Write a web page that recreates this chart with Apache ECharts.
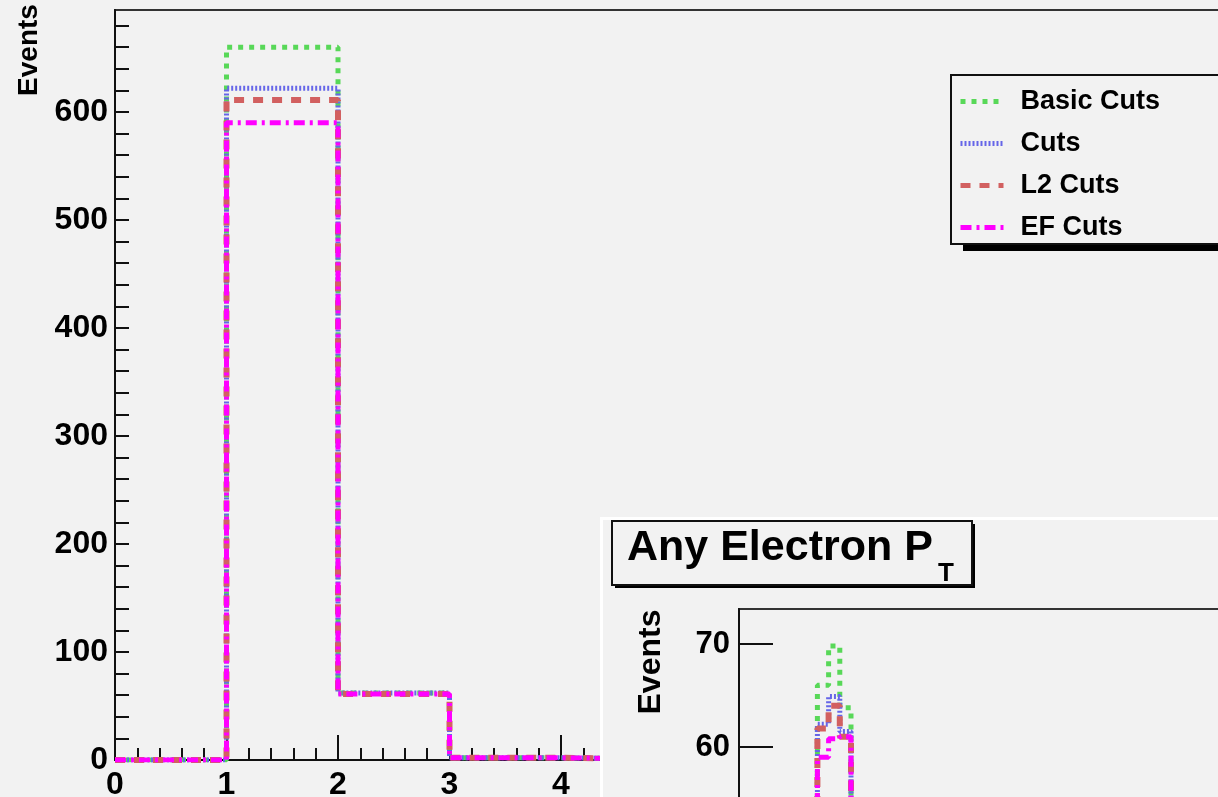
<!DOCTYPE html>
<html>
<head>
<meta charset="utf-8">
<title>Any Electron PT</title>
<script src="https://cdn.jsdelivr.net/npm/echarts@6/dist/echarts.min.js"></script>
<style>
  html, body { margin: 0; padding: 0; background: #f2f2f2; }
  #main { width: 1218px; height: 797px; }
</style>
</head>
<body>
<div id="main"></div>
<script>
var seriesNames = ['Basic Cuts', 'Cuts', 'L2 Cuts', 'EF Cuts'];

// main histogram (bin edges, one value per bin)
var mainEdges = [0, 1, 2, 3, 4, 5, 6, 7, 8, 9, 10];
var mainBasic = [0, 660, 62, 2, 1, 0, 0, 0, 0, 0];
var mainCuts  = [0, 622, 62, 2, 1, 0, 0, 0, 0, 0];
var mainL2    = [0, 611, 61, 2, 1, 0, 0, 0, 0, 0];
var mainEF    = [0, 590, 61, 2, 1, 0, 0, 0, 0, 0];
var mainYTicks  = [0, 20, 40, 60, 80, 100, 120, 140, 160, 180, 200, 220, 240, 260, 280, 300, 320, 340,
                   360, 380, 400, 420, 440, 460, 480, 500, 520, 540, 560, 580, 600, 620, 640, 660, 680];
var mainYLabels = [0, 100, 200, 300, 400, 500, 600];

// inset "Any Electron PT" histogram
var insetEdges = [5, 6, 7, 8, 9, 10, 11, 12];
var insetBasic = [38, 40, 66, 69.8, 63.8, 45, 40];
var insetCuts  = [38, 40, 62.2, 64.9, 61.5, 45, 40];
var insetL2    = [38, 40, 61.8, 64, 61, 45, 40];
var insetEF    = [38, 40, 59, 60.8, 61, 45, 40];
var insetYMajor  = [50, 60, 70];
var insetYMinor  = [52, 54, 56, 58, 62, 64, 66, 68, 72];
var insetYLabels = [60, 70];

var FONT = 'Liberation Sans, Arial, Helvetica, sans-serif';
var BG = '#f2f2f2';

function histo(edges, vals) {
    var d = [];
    for (var i = 0; i < vals.length; i++) d.push([edges[i], vals[i]]);
    d.push([edges[vals.length], vals[vals.length - 1]]);
    return d;
}

var looks = [
    { color: '#58d858', width: 5, type: [5, 6] },
    { color: '#6666e8', width: 5, type: [2, 2] },
    { color: '#d26060', width: 6, type: [10, 9] },
    { color: '#ff00ff', width: 5, type: [11, 5, 3, 5] }
];

var mainSets = [mainBasic, mainCuts, mainL2, mainEF];
var insetSets = [insetBasic, insetCuts, insetL2, insetEF];

var series = [];
mainSets.forEach(function (vals, i) {
    series.push({
        name: seriesNames[i], type: 'line', step: 'end', symbol: 'none', showSymbol: false,
        xAxisIndex: 0, yAxisIndex: 0, z: 2 + i,
        color: looks[i].color,
        lineStyle: looks[i],
        data: histo(mainEdges, vals)
    });
});
insetSets.forEach(function (vals, i) {
    series.push({
        name: seriesNames[i], type: 'line', step: 'end', symbol: 'none', showSymbol: false,
        xAxisIndex: 1, yAxisIndex: 1, zlevel: 1, z: 6 + i,
        color: looks[i].color,
        lineStyle: looks[i],
        data: histo(insetEdges, vals)
    });
});

var chartDom = document.getElementById('main');
var myChart = echarts.init(chartDom, null, { renderer: 'canvas' });
var option;

option = {
    backgroundColor: BG,
    animation: false,
    textStyle: { fontFamily: FONT },
    title: [
        {
            text: 'Any Electron P', left: 627, top: 527, padding: 0, zlevel: 1, z: 10,
            textStyle: { fontSize: 43, fontWeight: 'bold', color: '#000', fontFamily: FONT }
        },
        {
            text: 'T', left: 938, top: 561, padding: 0, zlevel: 1, z: 10,
            textStyle: { fontSize: 26, fontWeight: 'bold', color: '#000', fontFamily: FONT }
        }
    ],
    legend: {
        data: seriesNames,
        orient: 'vertical', left: 958, top: 88, padding: 0,
        itemWidth: 43, itemHeight: 14, itemGap: 15,
        selectedMode: false, z: 5,
        itemStyle: { opacity: 0 },
        lineStyle: { width: 5 },
        textStyle: { fontSize: 27, fontWeight: 'bold', color: '#000', fontFamily: FONT, lineHeight: 26, padding: [0, 0, 0, 12] }
    },
    grid: [
        { left: 115, top: 10, width: 1115, height: 750, outerBoundsMode: 'none', containLabel: false,
          show: true, borderColor: '#333', borderWidth: 2, backgroundColor: 'transparent' },
        { left: 739, top: 609, width: 560, height: 241, outerBoundsMode: 'none', containLabel: false,
          show: true, borderColor: '#333', borderWidth: 2, backgroundColor: 'transparent', zlevel: 1, z: 2 }
    ],
    xAxis: [
        {
            type: 'value', gridIndex: 0, min: 0, max: 10, interval: 1,
            axisLine: { lineStyle: { color: '#111', width: 2 } },
            axisTick: { inside: true, length: 25, lineStyle: { color: '#111', width: 2 } },
            minorTick: { show: true, splitNumber: 5, length: 12, lineStyle: { color: '#111', width: 2 } },
            axisLabel: { margin: 9, fontSize: 32, fontWeight: 'bold', color: '#000', fontFamily: FONT },
            splitLine: { show: false }
        },
        {
            type: 'value', gridIndex: 1, min: 0, max: 50, show: false, zlevel: 1
        }
    ],
    yAxis: [
        {
            type: 'value', gridIndex: 0, min: 0, max: 694.4,
            axisLine: { show: true, lineStyle: { color: '#111', width: 2 } },
            axisTick: { show: true, inside: true, length: 14, customValues: mainYTicks, lineStyle: { color: '#111', width: 2 } },
            axisLabel: { customValues: mainYLabels, margin: 7, fontSize: 32, fontWeight: 'bold', color: '#000', fontFamily: FONT },
            splitLine: { show: false }
        },
        {
            type: 'value', gridIndex: 1, min: 50, max: 73.4, zlevel: 1, z: 5,
            axisLine: { show: true, lineStyle: { color: '#111', width: 2 } },
            axisTick: { show: true, inside: true, length: 34, customValues: insetYMajor, lineStyle: { color: '#111', width: 2 } },
            axisLabel: { customValues: insetYLabels, margin: 9, fontSize: 31, fontWeight: 'bold', color: '#000', fontFamily: FONT },
            splitLine: { show: false }
        },
        {
            type: 'value', gridIndex: 1, min: 50, max: 73.4, zlevel: 1, z: 5,
            axisLine: { show: false },
            axisTick: { show: true, inside: true, length: 16, customValues: insetYMinor, lineStyle: { color: '#111', width: 2 } },
            axisLabel: { show: false },
            splitLine: { show: false }
        }
    ],
    graphic: [
        // legend frame + its hard shadow
        { type: 'rect', zlevel: 0, z: 1, shape: { x: 963, y: 82, width: 330, height: 169 }, style: { fill: '#000' } },
        { type: 'rect', zlevel: 0, z: 1, shape: { x: 951, y: 75, width: 330, height: 169 },
          style: { fill: BG, stroke: '#111', lineWidth: 2 } },
        { type: 'text', zlevel: 0, z: 5, x: 29, y: 50, rotation: Math.PI / 2,
          style: { text: 'Events', fill: '#000', font: 'bold 28px ' + FONT, textAlign: 'center', textVerticalAlign: 'middle' } },
        // inset pad
        { type: 'rect', zlevel: 1, z: 0, shape: { x: 600, y: 517, width: 700, height: 300 }, style: { fill: '#ffffff' } },
        { type: 'rect', zlevel: 1, z: 0, shape: { x: 603, y: 520, width: 700, height: 300 }, style: { fill: BG } },
        { type: 'rect', zlevel: 1, z: 1, shape: { x: 615, y: 524, width: 360, height: 64 }, style: { fill: '#000' } },
        { type: 'rect', zlevel: 1, z: 1, shape: { x: 612, y: 521, width: 360, height: 64 },
          style: { fill: BG, stroke: '#111', lineWidth: 2 } },
        { type: 'text', zlevel: 1, z: 5, x: 651, y: 662, rotation: Math.PI / 2,
          style: { text: 'Events', fill: '#000', font: 'bold 32px ' + FONT, textAlign: 'center', textVerticalAlign: 'middle' } }
    ],
    series: series
};

option && myChart.setOption(option);
</script>
</body>
</html>
